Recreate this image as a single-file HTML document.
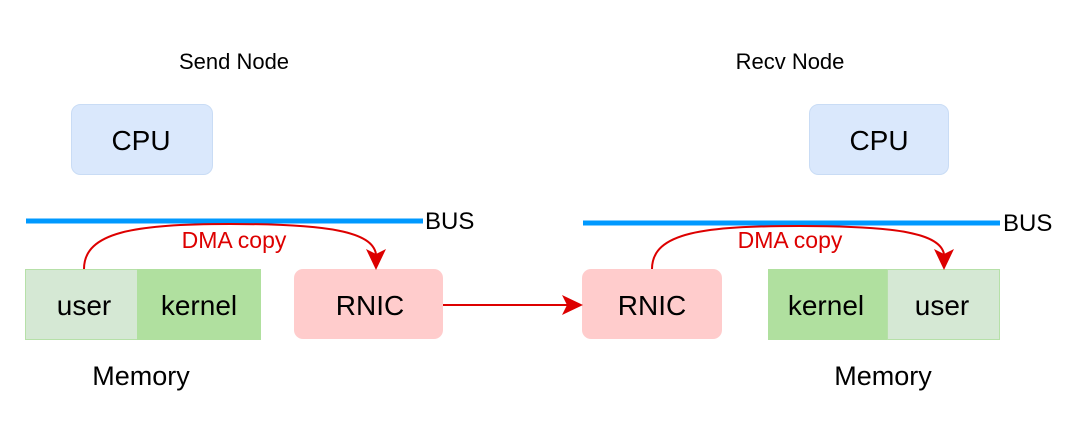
<!DOCTYPE html>
<html><head><style>body{margin:0;background:#fff}</style></head><body>
<svg width="1080" height="433" xmlns="http://www.w3.org/2000/svg" font-family="Liberation Sans, Helvetica, Arial, sans-serif">
<rect width="1080" height="433" fill="#fff"/>
<text x="234" y="69" font-size="22" text-anchor="middle">Send Node</text>
<text x="790" y="69" font-size="22" text-anchor="middle">Recv Node</text>
<rect x="71.5" y="104.5" width="141" height="70" rx="9" fill="#dae8fc" stroke="#c9dcf5"/>
<text x="141" y="150" font-size="28" text-anchor="middle">CPU</text>
<rect x="809.5" y="104.5" width="139" height="70" rx="9" fill="#dae8fc" stroke="#c9dcf5"/>
<text x="879" y="150" font-size="28" text-anchor="middle">CPU</text>
<line x1="26" y1="221" x2="423" y2="221" stroke="#0099ff" stroke-width="5"/>
<text x="425" y="229" font-size="24">BUS</text>
<line x1="583" y1="223" x2="1000" y2="223" stroke="#0099ff" stroke-width="5"/>
<text x="1003" y="231" font-size="24">BUS</text>
<rect x="25.5" y="269.5" width="112" height="70" fill="#d5e8d4" stroke="#b6e0a8"/>
<rect x="137.5" y="269.5" width="123" height="70" fill="#b0e09f" stroke="#b0e09f"/>
<text x="84" y="315" font-size="28" text-anchor="middle">user</text>
<text x="199" y="315" font-size="28" text-anchor="middle">kernel</text>
<rect x="768.5" y="269.5" width="119" height="70" fill="#b0e09f" stroke="#b0e09f"/>
<rect x="887.5" y="269.5" width="112" height="70" fill="#d5e8d4" stroke="#b6e0a8"/>
<text x="826" y="315" font-size="28" text-anchor="middle">kernel</text>
<text x="942" y="315" font-size="28" text-anchor="middle">user</text>
<rect x="294" y="269" width="149" height="70" rx="9" fill="#ffcccc"/>
<text x="370" y="315" font-size="28" text-anchor="middle">RNIC</text>
<rect x="582" y="269" width="140" height="70" rx="9" fill="#ffcccc"/>
<text x="652" y="315" font-size="28" text-anchor="middle">RNIC</text>
<text x="141" y="385" font-size="27" text-anchor="middle">Memory</text>
<text x="883" y="385" font-size="27" text-anchor="middle">Memory</text>
<g stroke="#dd0000" stroke-width="2" fill="none">
<path d="M84 269 C84 232 135 224 230 224 C330 224 372 232 376 254"/>
<path d="M652 269 C652 232 705 226 800 226 C900 226 940 234 944 254"/>
<line x1="443" y1="305" x2="570" y2="305"/>
</g>
<g fill="#dd0000">
<polygon points="366,249 376,254 386,249 376,270"/>
<polygon points="934,249 944,254 954,249 944,270"/>
<polygon points="562,295 567,305 562,315 583,305"/>
</g>
<text x="234" y="248" font-size="23" fill="#dd0000" text-anchor="middle">DMA copy</text>
<text x="790" y="248" font-size="23" fill="#dd0000" text-anchor="middle">DMA copy</text>
</svg>
</body></html>
